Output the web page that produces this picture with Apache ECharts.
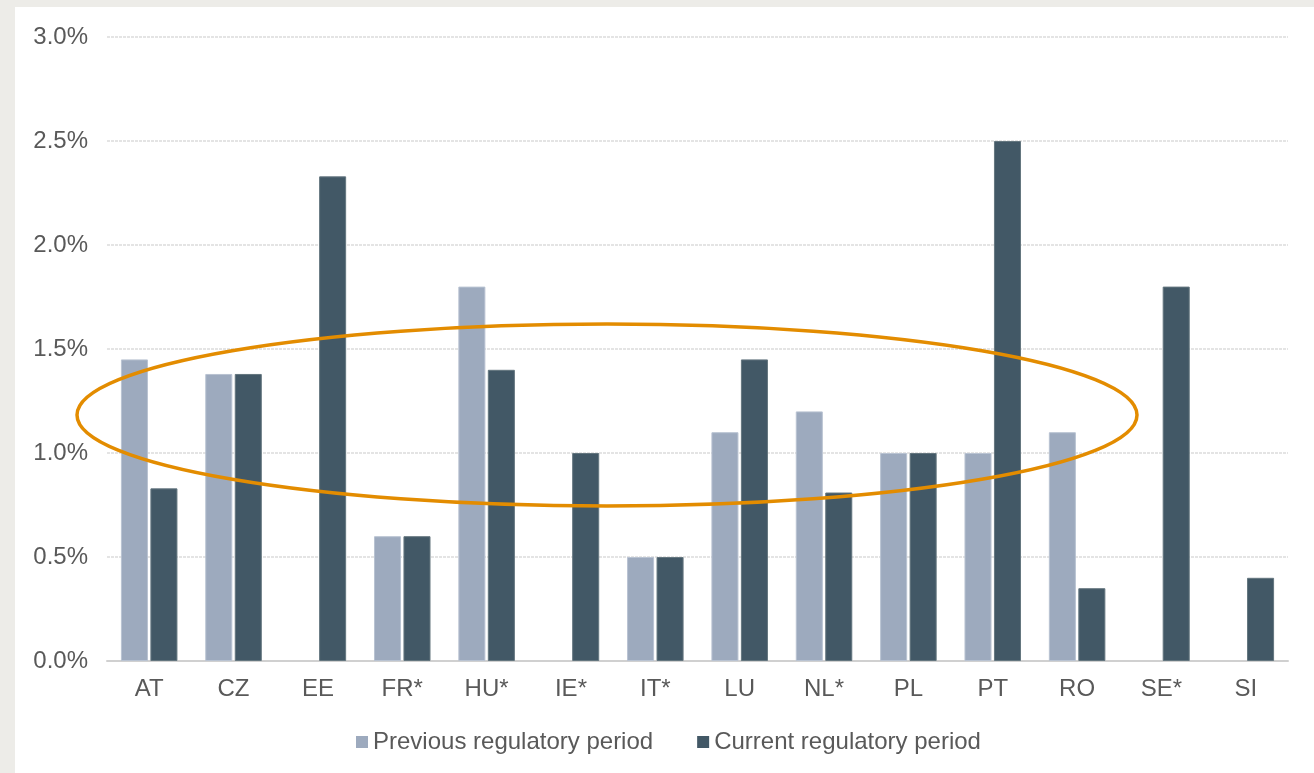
<!DOCTYPE html>
<html>
<head>
<meta charset="utf-8">
<title>Regulatory period</title>
<script src="https://cdn.jsdelivr.net/npm/echarts@6/dist/echarts.min.js"></script>
<style>
  html,body{margin:0;padding:0;}
  #wrap{position:relative;width:1314px;height:773px;background:#edece8;overflow:hidden;}
  #panel{position:absolute;left:15px;top:7px;right:0;bottom:0;background:#ffffff;}
  #main{position:absolute;left:0;top:0;width:1314px;height:773px;}
</style>
</head>
<body>
<div id="wrap">
  <div id="panel"></div>
  <div id="main"></div>
</div>
<script>
var countries = ["AT","CZ","EE","FR*","HU*","IE*","IT*","LU","NL*","PL","PT","RO","SE*","SI"];
var previous_period = [1.45, 1.38, null, 0.6, 1.8, null, 0.5, 1.1, 1.2, 1.0, 1.0, 1.1, null, null];
var current_period = [0.83, 1.38, 2.33, 0.6, 1.4, 1.0, 0.5, 1.45, 0.81, 1.0, 2.5, 0.35, 1.8, 0.4];
var series_names = ["Previous regulatory period", "Current regulatory period"];

var font = "'Liberation Sans', Arial, sans-serif";

function createChart(){
    var myChart = echarts.init(document.getElementById('main'));
    var option = {
        animation: false,
        grid: {
            left: 107,
            right: 26,
            top: 37,
            bottom: 112
        },
        legend: {
            data: series_names,
            left: 356,
            top: 730,
            padding: 0,
            itemWidth: 12,
            itemHeight: 12,
            itemGap: 44,
            icon: 'rect',
            itemStyle: { borderWidth: 0 },
            textStyle: {
                color: '#595959',
                fontSize: 24,
                fontFamily: font
            }
        },
        xAxis: {
            type: 'category',
            data: countries,
            axisTick: { show: false },
            axisLine: {
                lineStyle: { color: '#d0d0d0', width: 2 }
            },
            axisLabel: {
                color: '#595959',
                fontSize: 24,
                fontFamily: font,
                margin: 16
            }
        },
        yAxis: {
            type: 'value',
            min: 0,
            max: 3,
            interval: 0.5,
            axisLine: { show: false },
            axisTick: { show: false },
            axisLabel: {
                color: '#595959',
                fontSize: 24,
                fontFamily: font,
                margin: 19,
                padding: [4, 0, 0, 0],
                formatter: function(v){ return v.toFixed(1) + '%'; }
            },
            splitLine: {
                lineStyle: { color: '#dcdcdc', width: 1.5, type: [3, 1] }
            }
        },
        series: [
            {
                name: series_names[0],
                type: 'bar',
                data: previous_period,
                barGap: '9%',
                barCategoryGap: '33%',
                itemStyle: { color: '#9daabe', borderColor: '#b9c3d2', borderWidth: 1 }
            },
            {
                name: series_names[1],
                type: 'bar',
                data: current_period,
                itemStyle: { color: '#425866', borderColor: '#64767f', borderWidth: 1 }
            }
        ],
        graphic: [
            {
                type: 'ellipse',
                z: 100,
                shape: { cx: 607, cy: 415, rx: 530, ry: 91 },
                style: { fill: 'none', stroke: '#e38c00', lineWidth: 3.5 }
            }
        ]
    };
    myChart.setOption(option);
}

createChart();
</script>
</body>
</html>
